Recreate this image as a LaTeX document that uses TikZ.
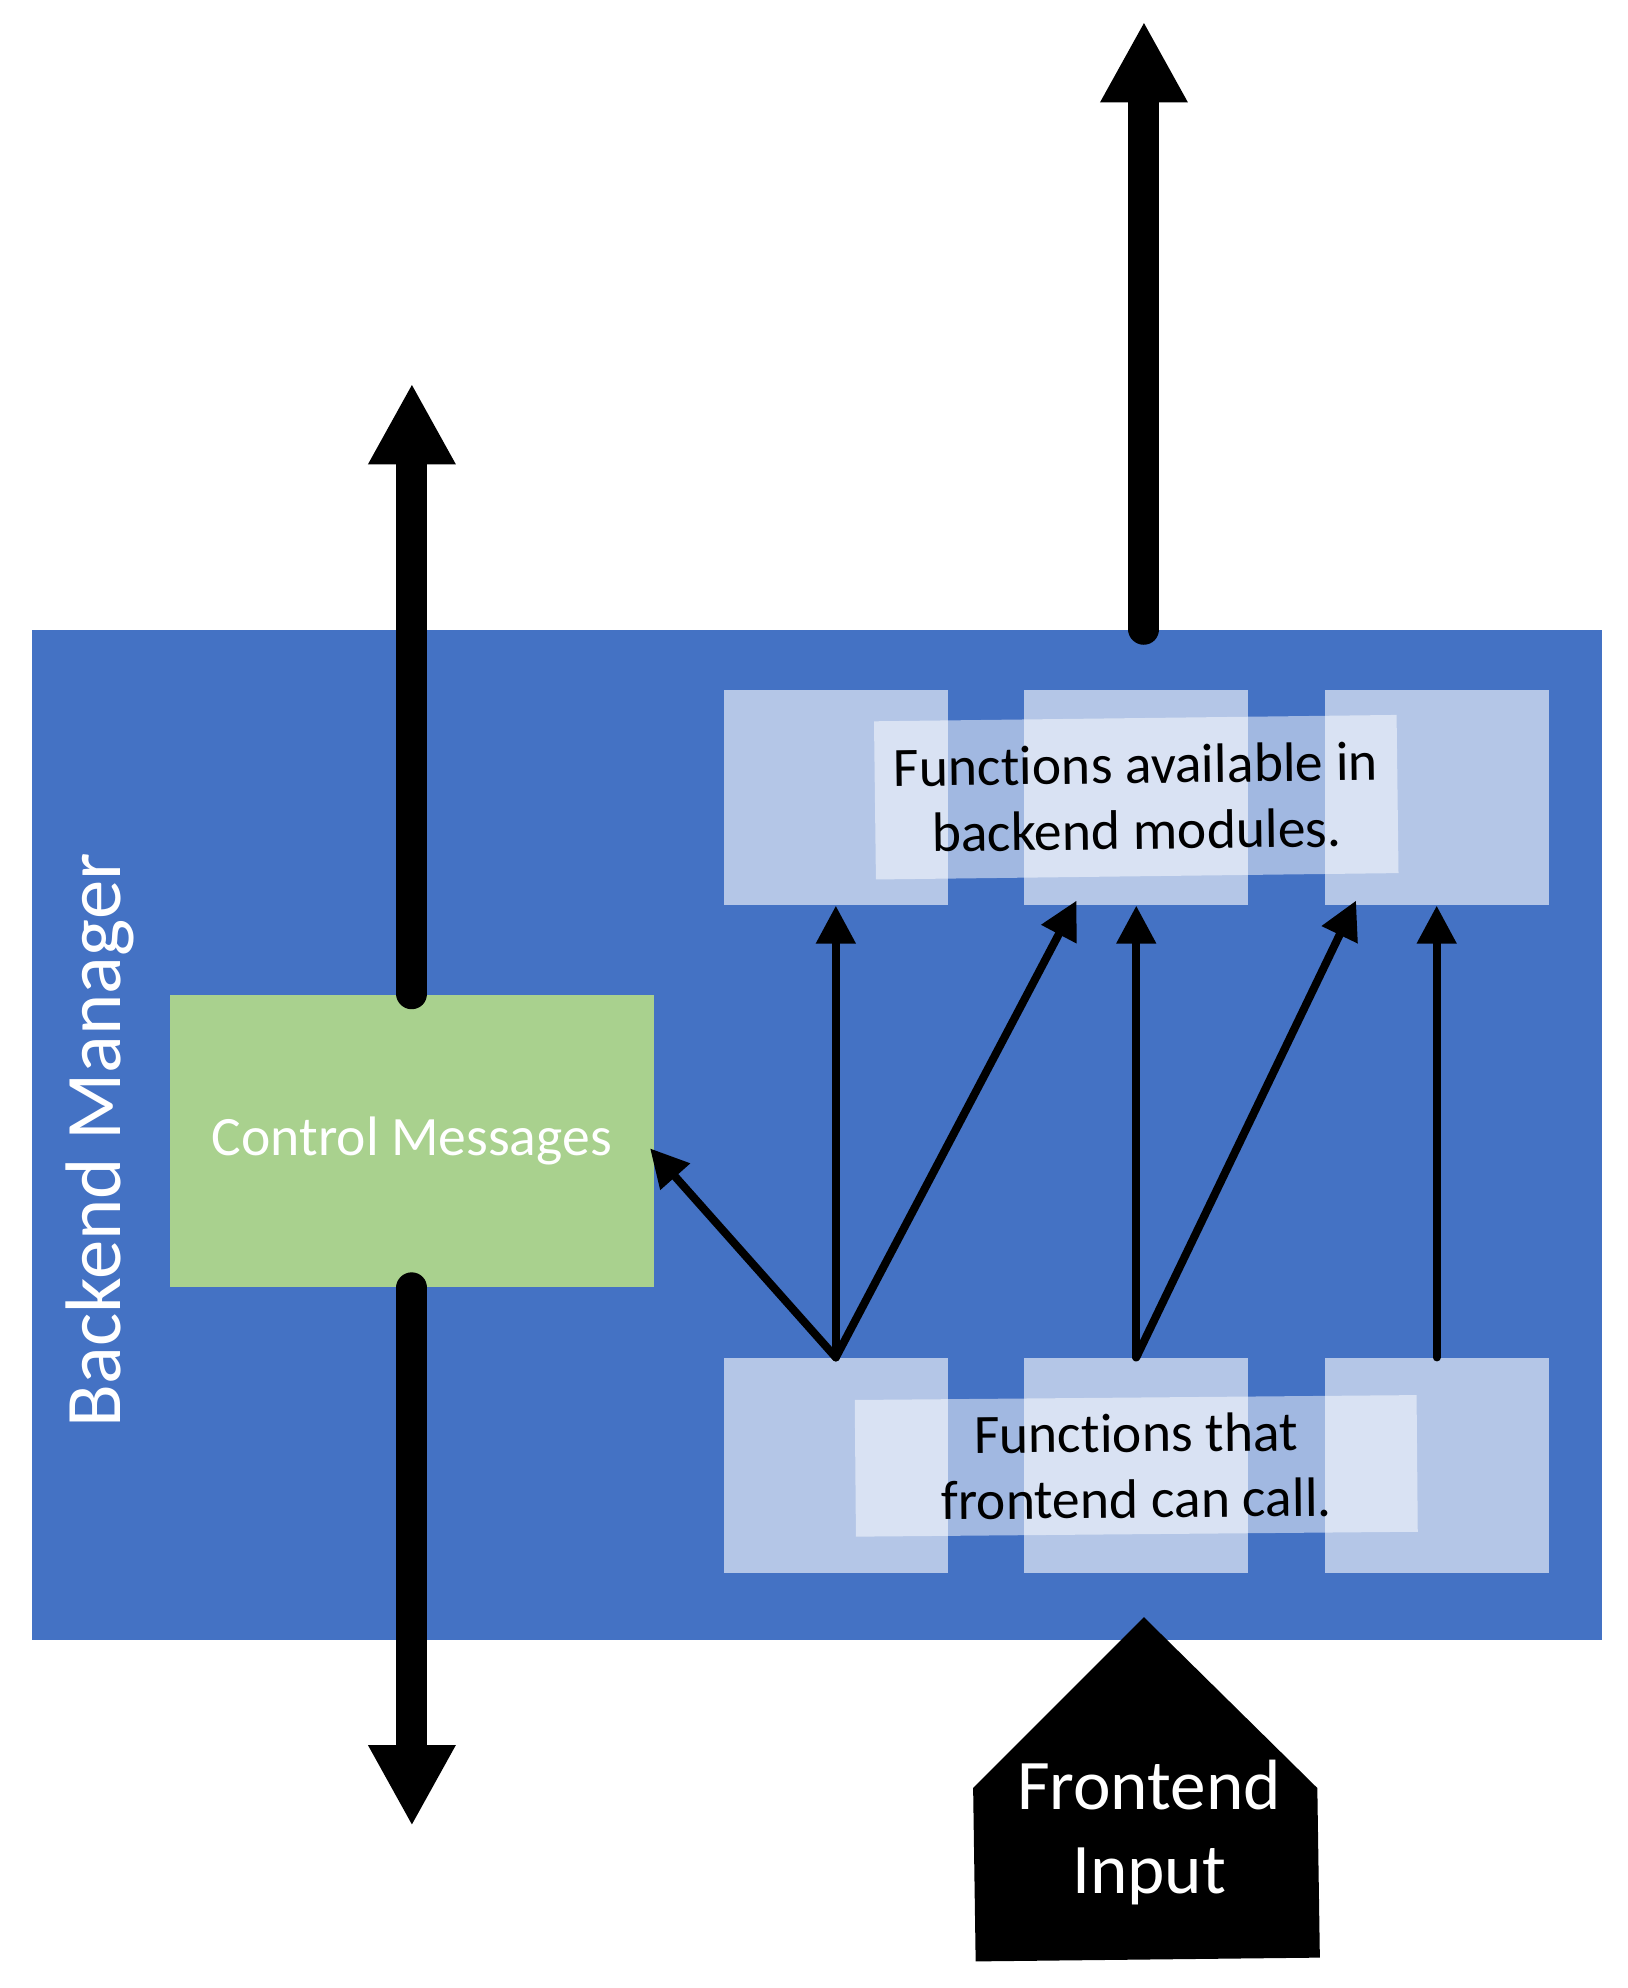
\documentclass[tikz,border=0pt]{standalone}
\usepackage{fontspec}
\setmainfont{Carlito}[Ligatures={NoCommon,NoRequired,NoContextual}]
\usepackage{tikz}
\usetikzlibrary{positioning,arrows.meta}
\definecolor{mgrblue}{HTML}{4472C4}
\definecolor{ctrlgreen}{HTML}{A9D18E}
\tikzset{fbox/.style={fill=white,fill opacity=0.6,minimum width=1.77cm,minimum height=1.70cm,inner sep=0pt},
	label box/.style={fill=white,fill opacity=0.5,text opacity=1,align=center,inner sep=0pt,
		font=\fontsize{12.5}{14.8}\selectfont},
	thin arrow/.style={line width=1.8pt,line cap=round,-{Triangle[length=0.3cm,width=0.3cm]}},
	thick arrow/.style={line width=0.245cm,line cap=round,-{Triangle[length=0.64cm,width=0.645cm]}}}

\begin{document}
\begin{tikzpicture}
\useasboundingbox (0,0) rectangle (12.86,15.71);
\node [fill=mgrblue,minimum width=12.41cm,minimum height=7.98cm,inner sep=0pt] (mgr) at (6.455,6.74) {};
\node [rotate=90,text=white,font=\fontsize{17.7}{21}\selectfont] (mgrlbl) at (0.79,6.70) {Backend Manager};
\node [fill=ctrlgreen,minimum width=3.83cm,minimum height=2.31cm,inner sep=0pt,
  text=white,font=\fontsize{12.5}{15}\selectfont] (ctrl) at (3.255,6.695) {Control Messages};
\node [fbox] (t1) at (6.605,9.41) {};
\node [fbox,right=0.59cm of t1] (t2) {};
\node [fbox,right=0.59cm of t2] (t3) {};
\node [fbox,below=3.57cm of t1] (b1) {};
\node [fbox,right=0.59cm of b1] (b2) {};
\node [fbox,right=0.59cm of b2] (b3) {};
\node [label box,minimum width=4.13cm,minimum height=1.25cm,rotate=0.7] (avail) at (t2) {Functions available in\\backend modules.};
\node [label box,minimum width=4.44cm,minimum height=1.08cm,rotate=0.5] (call) at (b2) {Functions that\\frontend can call.};
\draw [thin arrow] (b1.north) -- (t1.south);
\draw [thin arrow] (b1.north) -- ([xshift=0.42cm,yshift=0.04cm]t2.south west);
\draw [thin arrow] (b1.north) -- ([xshift=-0.04cm,yshift=-0.06cm]ctrl.east);
\draw [thin arrow] (b2.north) -- (t2.south);
\draw [thin arrow] (b2.north) -- ([xshift=0.255cm,yshift=0.04cm]t3.south west);
\draw [thin arrow] (b3.north) -- (t3.south);
\coordinate (cmup) at (3.255,12.68);
\coordinate (cmdown) at (3.255,1.28);
\coordinate (out) at (9.04,15.54);
\draw [thick arrow] (ctrl.north) -- (cmup);
\draw [thick arrow] (ctrl.south) -- (cmdown);
\draw [thick arrow] (mgr.north -| out) -- (out);
\fill (9.04,2.93) -- (10.41,1.58) -- (10.43,0.24) -- (7.71,0.21) -- (7.69,1.58) -- cycle;
\node [text=white,align=center,font=\fontsize{16}{19}\selectfont] (fe) at (9.08,1.23) {Frontend\\Input};
\end{tikzpicture}
\end{document}
